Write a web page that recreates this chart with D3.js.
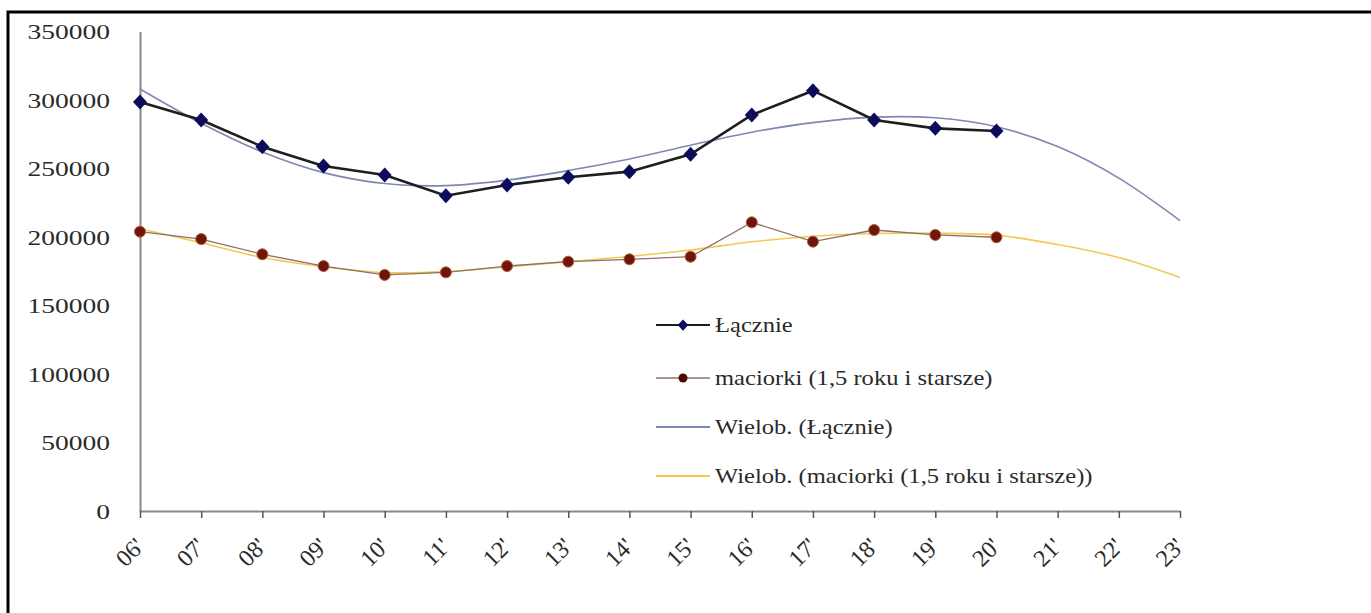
<!DOCTYPE html>
<html>
<head>
<meta charset="utf-8">
<script src="https://cdn.jsdelivr.net/npm/d3@7"></script>
<style>
body { margin: 0; background: #fff; }
.container svg { display: block; }
.container svg text { font-family: "Liberation Serif", "Times New Roman", serif; }
</style>
</head>
<body>
<div class="container"></div>
<script>
const WIDTH = 1371;
const HEIGHT = 613;
const LEFT = 140;
const RIGHT = 1180;
const TOP = 31.5;
const BOTTOM = 511;

// data
var years = ["06","07","08","09","10","11","12","13","14","15","16","17","18","19","20","21","22","23"];
var lacznie = [298500, 285400, 265900, 251800, 245300, 230100, 238000, 243600, 247700, 260400, 289100, 306800, 285400, 279300, 277400];
var maciorki = [203900, 198500, 187400, 178800, 172300, 174200, 178800, 182000, 183700, 185600, 210700, 196600, 205100, 201500, 199800];
var trendLacznie = [308000, 283000, 262000, 247000, 239000, 237500, 241500, 248500, 257000, 267000, 276500, 283500, 287500, 287000, 280500, 266000, 243000, 212000];
var trendMaciorki = [206000, 195800, 185000, 178300, 174000, 174700, 178300, 182000, 185800, 190500, 196500, 200500, 202500, 202700, 201300, 194500, 185000, 170500];
var yTicks = [0, 50000, 100000, 150000, 200000, 250000, 300000, 350000];
var legendNames = ["Łącznie", "maciorki (1,5 roku i starsze)", "Wielob. (Łącznie)", "Wielob. (maciorki (1,5 roku i starsze))"];

var diamond = "M0,-7.5L7,0L0,7.5L-7,0Z";

var toPoints = function(values){
	return values.map(function(v, i){ return {year: years[i], value: v}; });
};

var drawLine = function(selection, data, line, color, width){
	selection.append("path")
		.attr("d", line(data))
		.style("fill", "none")
		.style("stroke", color)
		.style("stroke-width", width);
};

var load = function(){
	var xScale = d3.scalePoint()
		.domain(years)
		.range([LEFT, RIGHT]);

	var yScale = d3.scaleLinear()
		.domain([0, 350000])
		.range([BOTTOM, TOP]);

	var line = d3.line()
		.x(function(d){ return xScale(d.year)})
		.y(function(d){ return yScale(d.value)});

	var smooth = d3.line()
		.curve(d3.curveCatmullRom)
		.x(function(d){ return xScale(d.year)})
		.y(function(d){ return yScale(d.value)});

	var svg = d3.select(".container").append("svg")
		.attr("width", WIDTH)
		.attr("height", HEIGHT);

	// frame, cut by the page edge on right and bottom
	svg.append("rect")
		.attr("x", 8).attr("y", 12)
		.attr("width", 1500).attr("height", 800)
		.style("fill", "none")
		.style("stroke", "#000")
		.style("stroke-width", 3);

	var yAxis = d3.axisLeft(yScale).tickValues(yTicks).tickSize(0).tickPadding(30)
		.tickFormat(d3.format("d"));
	var yAxisGroup = svg.append("g")
		.attr("transform", "translate(" + LEFT + ",0)")
		.call(yAxis);
	yAxisGroup.select(".domain").style("stroke", "#8a8a8a").style("stroke-width", 2);
	yAxisGroup.selectAll("text")
		.attr("x", 0)
		.attr("transform", "translate(-30,0) scale(1.25,1)")
		.style("font-size", "22px")
		.style("fill", "#2a2a2a");

	var xAxis = d3.axisBottom(xScale).tickSizeInner(7).tickSizeOuter(0)
		.tickFormat(function(d){ return d + "'"; });
	var xAxisGroup = svg.append("g")
		.attr("transform", "translate(0," + BOTTOM + ")")
		.call(xAxis);
	xAxisGroup.select(".domain").style("stroke", "#8a8a8a").style("stroke-width", 2);
	xAxisGroup.selectAll(".tick line").style("stroke", "#555").style("stroke-width", 1.5);
	xAxisGroup.selectAll("text")
		.attr("x", 0).attr("y", 0).attr("dy", "0.35em")
		.attr("transform", "translate(-1,31) rotate(-45)")
		.style("text-anchor", "end")
		.style("font-size", "24px")
		.style("fill", "#2a2a2a");

	// trend lines
	var trends = svg.append("g");
	drawLine(trends, toPoints(trendLacznie), smooth, "#7d88b3", 1.6);
	drawLine(trends, toPoints(trendMaciorki), smooth, "#f4c84e", 1.6);

	// series
	var series = svg.append("g");
	drawLine(series, toPoints(maciorki), line, "#8c7168", 1.3);
	drawLine(series, toPoints(lacznie), line, "#1e1e1e", 2.6);

	series.selectAll(".dot").data(toPoints(maciorki))
		.enter()
		.append("circle")
		.attr("cx", function(d){ return xScale(d.year)})
		.attr("cy", function(d){ return yScale(d.value)})
		.attr("r", 5.5)
		.style("fill", "#6e160c")
		.style("stroke", "#b0603a")
		.style("stroke-width", 1);

	series.selectAll(".diamond").data(toPoints(lacznie))
		.enter()
		.append("path")
		.attr("d", diamond)
		.attr("transform", function(d){ return "translate(" + xScale(d.year) + "," + yScale(d.value) + ")"})
		.style("fill", "#0c0c5a");

	// legend
	var legendY = [325, 378, 427, 476];
	var legend = svg.append("g");
	var items = legend.selectAll("g").data(legendNames)
		.enter()
		.append("g")
		.attr("transform", function(d, i){ return "translate(656," + legendY[i] + ")"});

	var legendColors = ["#1e1e1e", "#8c7168", "#7d88b3", "#f4c84e"];
	var legendWidths = [2.2, 1.3, 1.8, 1.8];
	items.append("line")
		.attr("x1", 0).attr("x2", 54)
		.style("stroke", function(d, i){ return legendColors[i]})
		.style("stroke-width", function(d, i){ return legendWidths[i]});

	items.filter(function(d, i){ return i === 0; })
		.append("path")
		.attr("d", diamond)
		.attr("transform", "translate(27,0) scale(0.75)")
		.style("fill", "#0c0c5a");

	items.filter(function(d, i){ return i === 1; })
		.append("circle")
		.attr("cx", 27).attr("r", 4.5)
		.style("fill", "#4a0a05");

	items.append("text")
		.attr("transform", "translate(59,0) scale(1.17,1)")
		.attr("dy", "0.32em")
		.style("font-size", "21px")
		.style("fill", "#2a2a2a")
		.text(function(d){ return d});
};

window.onload = load;
</script>
</body>
</html>
